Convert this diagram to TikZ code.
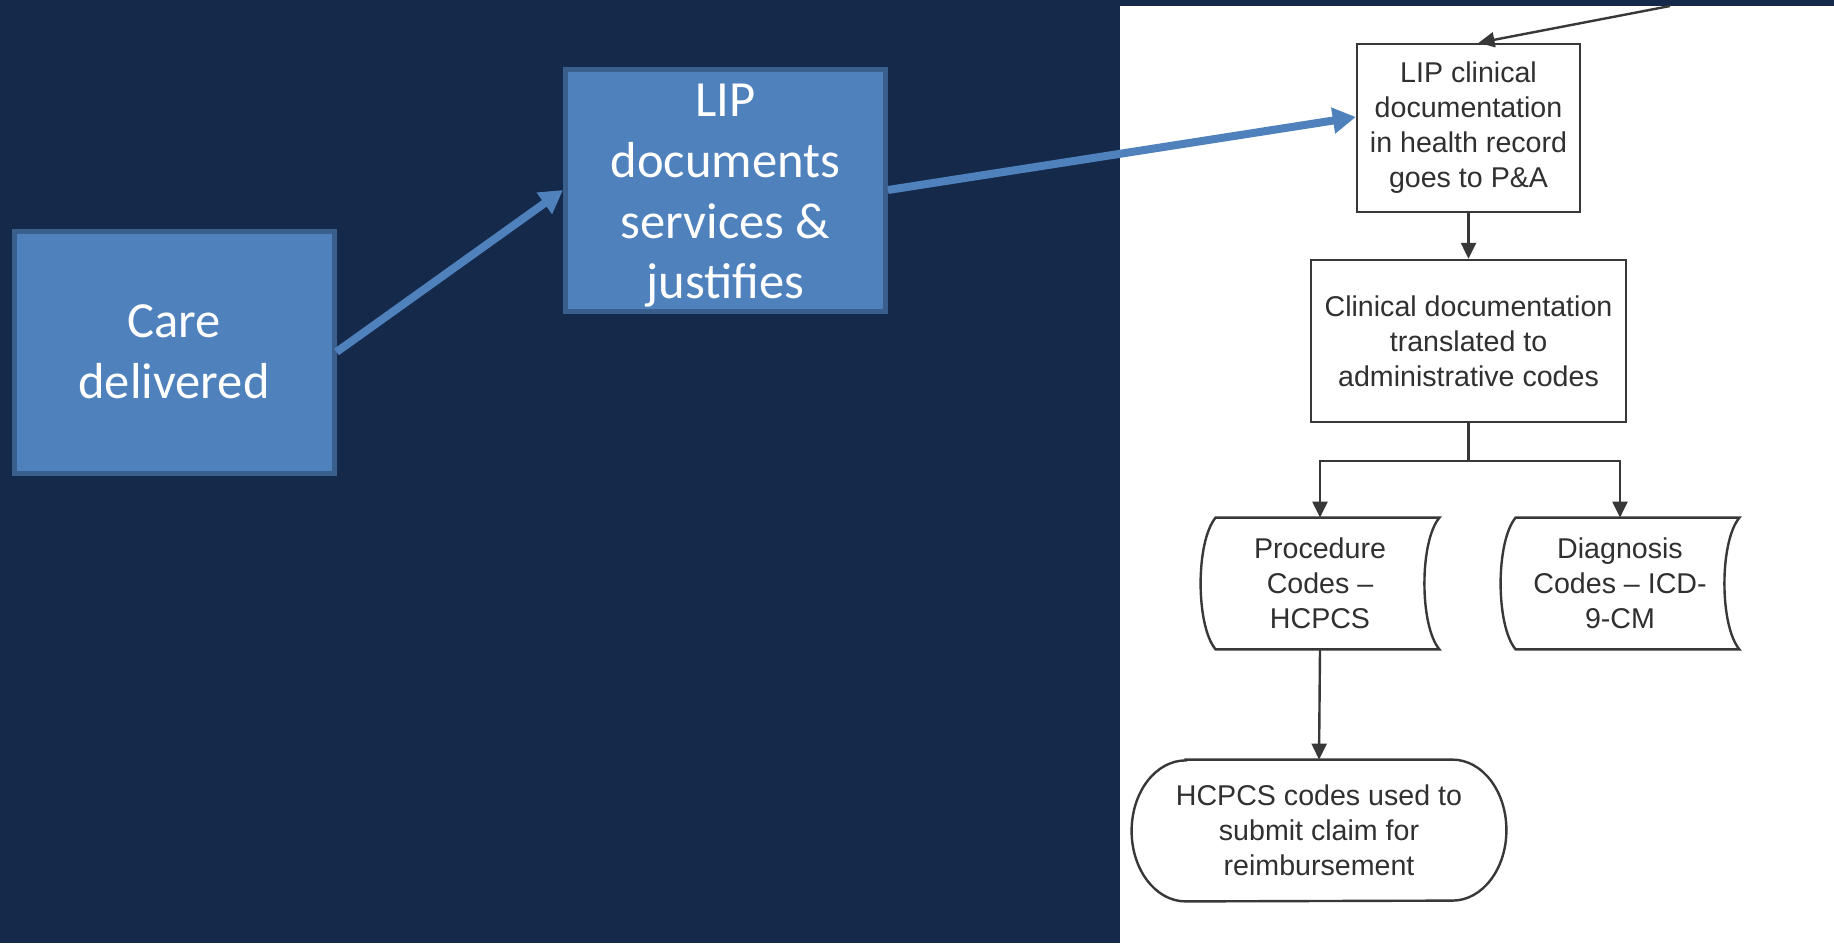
\documentclass[tikz,border=0pt]{standalone}
\usepackage{fontspec}
\usetikzlibrary{positioning,arrows.meta,calc}
\newfontfamily\slidefont{Carlito}
\newfontfamily\chartfont{Liberation Sans}
\definecolor{slidebg}{HTML}{15294B}
\definecolor{boxfill}{HTML}{4F81BD}
\definecolor{boxline}{HTML}{3A5F8C}
\definecolor{chartline}{HTML}{383838}
\definecolor{charttext}{HTML}{303030}

% outline of a stored data symbol round a named node
\newcommand{\storedoutline}[1]{%
  \draw[chartbox] ([xshift=3.75pt]#1.north west) -- ([xshift=3.75pt]#1.north east)
    .. controls ([xshift=-6.25pt,yshift=-12pt]#1.north east) and ([xshift=-6.25pt,yshift=12pt]#1.south east) .. ([xshift=3.75pt]#1.south east)
    -- ([xshift=3.75pt]#1.south west)
    .. controls ([xshift=-6.25pt,yshift=12pt]#1.south west) and ([xshift=-6.25pt,yshift=-12pt]#1.north west) .. cycle;}

\begin{document}
\begin{tikzpicture}[x=0.5pt,y=-0.5pt,
    slidebox/.style={draw=boxline,fill=boxfill,line width=2.5pt,text=white,
      font=\slidefont\fontsize{25.3}{30.4}\selectfont,align=center,
      minimum width=160pt,minimum height=121pt,inner sep=0pt},
    slidearrow/.style={draw=boxfill,line width=4pt,-{Triangle[length=11.5pt,width=12.5pt]}},
    chartbox/.style={draw=chartline,line width=1.2pt},
    charttxt/.style={text=charttext,font=\chartfont\fontsize{14.3}{17.5}\selectfont,
      align=center,inner sep=0pt},
    chartarrow/.style={draw=chartline,line width=1.2pt,-{Triangle[length=8pt,width=7.5pt]}}]
  \useasboundingbox (0,0) rectangle (1834,943);

  % slide background and pasted chart
  \fill[slidebg] (0,0) rectangle (1834,943);
  \fill[white] (1120,6) rectangle (1834,943);

  % blue boxes on the slide
  \node[slidebox] (care) at (174,352) {Care\\delivered};
  \node[slidebox] (docs) at (725.5,190) {\rule{0pt}{22pt}LIP\\documents\\services \&\\justifies};

  % flowchart
  \node[charttxt,chartbox,minimum width=111.5pt,minimum height=84pt] (lipclin) at (1468.5,128)
    {LIP clinical\\documentation\\in health record\\goes to P\&A};
  \node[charttxt,chartbox,minimum width=157.5pt,minimum height=81pt] (clindoc) at (1468.5,341)
    {Clinical documentation\\translated to\\administrative codes};
  \node[charttxt,minimum width=111.5pt,minimum height=65.5pt] (proc) at (1320,583.5)
    {Procedure\\Codes –\\HCPCS};
  \node[charttxt,minimum width=111.5pt,minimum height=65.5pt] (diag) at (1620,583.5)
    {Diagnosis\\Codes – ICD-\\9-CM};
  \node[charttxt,minimum width=187pt,minimum height=70.5pt] (term) at (1319,830.5)
    {HCPCS codes used to\\submit claim for\\reimbursement};
  \storedoutline{proc}
  \storedoutline{diag}
  \draw[chartbox] ([xshift=27pt]term.north west) -- ([xshift=-27pt]term.north east)
    arc[start angle=90,end angle=-90,x radius=27pt,y radius=35.25pt]
    -- ([xshift=27pt]term.south west)
    arc[start angle=270,end angle=90,x radius=27pt,y radius=35.25pt] -- cycle;

  % connectors
  \coordinate (topin) at (1670,6);
  \draw[chartarrow] (topin) -- ([xshift=5pt]lipclin.north);
  \draw[chartarrow] (lipclin.south) -- (clindoc.north);
  \draw[chartarrow] (clindoc.south) -- ++(0,38) -| (proc.north);
  \draw[chartarrow] (clindoc.south) -- ++(0,38) -| (diag.north);
  \draw[chartarrow] (proc.south) -- (term.north);

  \draw[slidearrow] (care.east) -- (docs.west);
  \draw[slidearrow] (docs.east) -- ([yshift=5.5pt]lipclin.west);
\end{tikzpicture}
\end{document}
